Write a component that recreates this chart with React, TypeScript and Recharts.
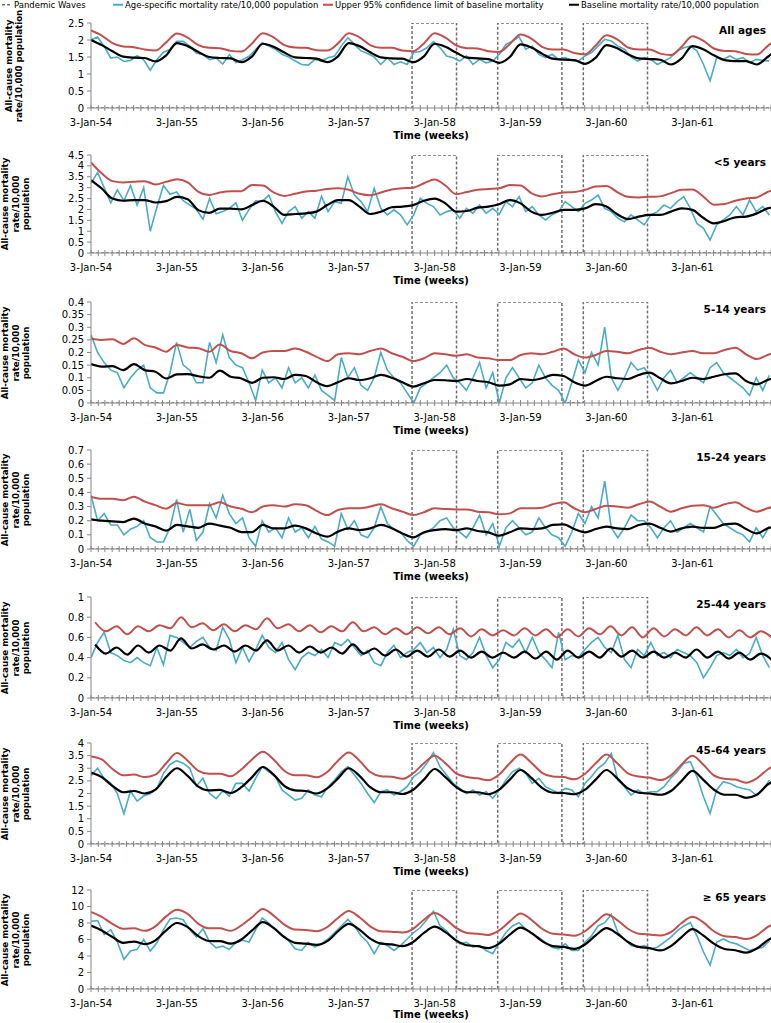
import React from 'react';
import { LineChart, Line, XAxis, YAxis } from 'recharts';

const FONT = '"DejaVu Sans", Verdana, sans-serif';

// time axis in weeks, week 0 = 3-Jan-54
const yearLabels = ['3-Jan-54', '3-Jan-55', '3-Jan-56', '3-Jan-57', '3-Jan-58', '3-Jan-59', '3-Jan-60', '3-Jan-61'];
const waveStarts = [195, 247, 299];
const waveEnds = [222, 286, 338];
const END_WEEK = 413;

// sampling positions (weeks) of the read-off values
const obsWeeks = Array.from({ length: 104 }, (_, k) => k * 4);
const smoothWeeks = Array.from({ length: 65 }, (_, j) => j * 6.5225);
const quarterWeeks = Array.from({ length: 64 }, (_, j) => 2.5 + j * 6.5225);

// ---- All ages
const allAgesObserved = [
  2.0, 2.09, 1.81, 1.47, 1.5, 1.37, 1.4, 1.54, 1.42, 1.11, 1.42, 1.64, 1.72,
  1.96, 1.96, 1.81, 1.62, 1.57, 1.42, 1.47, 1.29, 1.57, 1.34, 1.42, 1.52, 1.72,
  1.92, 1.82, 1.73, 1.58, 1.5, 1.38, 1.28, 1.26, 1.43, 1.38, 1.48, 1.53, 1.82,
  2.07, 1.87, 1.68, 1.6, 1.5, 1.28, 1.48, 1.28, 1.36, 1.28, 1.63, 1.66, 1.77,
  1.95, 1.77, 1.53, 1.48, 1.38, 1.53, 1.28, 1.43, 1.33, 1.38, 1.58, 1.87, 1.97,
  2.09, 1.73, 1.82, 1.58, 1.48, 1.58, 1.43, 1.48, 1.4, 1.38, 1.53, 1.63, 1.82,
  2.02, 1.97, 1.82, 1.73, 1.5, 1.38, 1.48, 1.43, 1.28, 1.38, 1.48, 1.68, 1.77,
  1.82, 1.68, 1.28, 0.8, 1.48, 1.43, 1.53, 1.43, 1.48, 1.33, 1.43, 1.4, 1.38,
];
const allAgesUpper = [
  2.28, 2.13, 1.91, 1.81, 1.79, 1.72, 1.69, 1.93,
  2.19, 2.07, 1.85, 1.77, 1.76, 1.68, 1.66, 1.9,
  2.2, 2.08, 1.85, 1.78, 1.77, 1.7, 1.69, 1.9,
  2.2, 2.08, 1.85, 1.77, 1.77, 1.69, 1.67, 1.9,
  2.2, 2.07, 1.84, 1.76, 1.75, 1.67, 1.65, 1.88,
  2.16, 2.04, 1.8, 1.72, 1.72, 1.62, 1.58, 1.84,
  2.14, 2.02, 1.78, 1.72, 1.72, 1.6, 1.56, 1.8,
  2.11, 1.98, 1.75, 1.68, 1.67, 1.59, 1.57, 1.82, 2.05,
];
const allAgesBaseline = [
  2.0, 1.85, 1.67, 1.51, 1.48, 1.47, 1.37, 1.55,
  1.91, 1.82, 1.65, 1.5, 1.47, 1.46, 1.35, 1.52,
  1.89, 1.8, 1.63, 1.49, 1.47, 1.45, 1.35, 1.52,
  1.91, 1.82, 1.64, 1.49, 1.46, 1.45, 1.35, 1.52,
  1.89, 1.8, 1.63, 1.48, 1.46, 1.44, 1.33, 1.5,
  1.87, 1.78, 1.6, 1.45, 1.42, 1.41, 1.3, 1.48,
  1.85, 1.76, 1.58, 1.46, 1.44, 1.42, 1.28, 1.46,
  1.82, 1.73, 1.55, 1.41, 1.38, 1.38, 1.28, 1.5, 1.75,
];

// ---- <5 years
const under5Observed = [
  3.2, 3.7, 3.0, 2.3, 2.9, 2.4, 3.1, 2.2, 3.0, 1.0, 2.1, 3.1, 2.7,
  2.8, 2.4, 2.2, 2.0, 1.55, 2.5, 1.8, 1.9, 2.05, 2.3, 1.5, 2.0, 2.4,
  2.36, 2.66, 1.9, 1.36, 1.9, 2.13, 1.6, 1.9, 1.6, 2.6, 1.9, 2.36, 2.28,
  3.5, 2.66, 2.36, 1.9, 2.97, 2.05, 1.75, 1.98, 1.75, 1.29, 1.75, 2.51, 2.28,
  2.13, 1.75, 1.9, 1.98, 1.6, 2.05, 1.82, 2.2, 1.82, 2.05, 1.78, 2.36, 2.13,
  2.59, 1.9, 2.13, 1.75, 1.52, 1.75, 1.9, 2.36, 2.13, 1.9, 2.28, 2.43, 2.66,
  2.05, 1.9, 1.6, 1.44, 1.75, 1.52, 1.29, 1.75, 1.9, 2.2, 2.05, 2.36, 2.59,
  2.05, 1.36, 1.13, 0.6, 1.29, 1.52, 1.75, 2.13, 1.75, 2.43, 1.9, 2.13, 1.75,
];
const under5Upper = [
  4.16, 3.66, 3.3, 3.24, 3.27, 3.3, 3.15, 3.27,
  3.39, 3.24, 2.81, 2.66, 2.78, 2.84, 2.84, 3.12,
  3.1, 2.78, 2.62, 2.72, 2.82, 2.86, 2.94, 2.97,
  2.9, 2.72, 2.65, 2.78, 2.92, 2.97, 3.0, 3.2,
  3.37, 3.1, 2.7, 2.8, 2.9, 2.94, 2.97, 3.12,
  3.1, 2.75, 2.6, 2.7, 2.78, 2.8, 2.9, 3.05,
  3.08, 2.8, 2.58, 2.55, 2.58, 2.6, 2.75, 2.9,
  2.92, 2.6, 2.22, 2.25, 2.4, 2.5, 2.55, 2.8, 2.95,
];
const under5Baseline = [
  3.35, 2.96, 2.5, 2.4, 2.43, 2.43, 2.32, 2.38,
  2.58, 2.47, 1.97, 1.84, 2.04, 2.04, 2.0, 2.2,
  2.4, 2.13, 1.75, 1.79, 1.82, 1.9, 2.2, 2.43,
  2.43, 2.13, 1.79, 1.9, 2.1, 2.13, 2.2, 2.4,
  2.5, 2.28, 1.9, 1.93, 2.08, 2.13, 2.24, 2.43,
  2.28, 1.9, 1.75, 1.85, 1.98, 1.98, 2.05, 2.24,
  2.13, 1.78, 1.56, 1.67, 1.75, 1.75, 1.9, 2.05,
  1.98, 1.62, 1.36, 1.47, 1.64, 1.67, 1.82, 2.05, 2.13,
];

// ---- 5-14 years
const age5to14Observed = [
  0.27, 0.2, 0.16, 0.13, 0.12, 0.06, 0.1, 0.13, 0.15, 0.06, 0.04, 0.04, 0.12,
  0.24, 0.15, 0.13, 0.08, 0.08, 0.24, 0.16, 0.27, 0.18, 0.15, 0.14, 0.08, 0.01,
  0.13, 0.08, 0.1, 0.06, 0.14, 0.08, 0.1, 0.06, 0.11, 0.05, 0.03, 0.01, 0.18,
  0.1, 0.14, 0.07, 0.05, 0.1, 0.2, 0.13, 0.1, 0.08, 0.04, 0.0, 0.06, 0.08,
  0.1, 0.12, 0.15, 0.1, 0.08, 0.05, 0.1, 0.16, 0.06, 0.12, 0.0, 0.1, 0.14,
  0.1, 0.06, 0.08, 0.15, 0.1, 0.07, 0.05, 0.0, 0.08, 0.17, 0.12, 0.2, 0.15,
  0.3, 0.1, 0.05, 0.1, 0.16, 0.13, 0.14, 0.1, 0.05, 0.1, 0.13, 0.08, 0.1,
  0.12, 0.1, 0.08, 0.14, 0.16, 0.12, 0.1, 0.08, 0.06, 0.03, 0.1, 0.05, 0.11,
];
const age5to14Upper = [
  0.256, 0.25, 0.252, 0.234, 0.256, 0.23, 0.22, 0.203,
  0.23, 0.22, 0.217, 0.203, 0.232, 0.206, 0.197, 0.177,
  0.2, 0.206, 0.206, 0.216, 0.203, 0.183, 0.166, 0.193,
  0.197, 0.193, 0.206, 0.216, 0.197, 0.183, 0.166, 0.177,
  0.197, 0.193, 0.187, 0.193, 0.18, 0.177, 0.17, 0.17,
  0.19, 0.197, 0.193, 0.203, 0.216, 0.193, 0.18, 0.19,
  0.206, 0.203, 0.197, 0.21, 0.219, 0.203, 0.193, 0.2,
  0.206, 0.197, 0.197, 0.21, 0.219, 0.193, 0.174, 0.19, 0.206,
];
const age5to14Baseline = [
  0.154, 0.144, 0.146, 0.13, 0.154, 0.13, 0.124, 0.097,
  0.113, 0.114, 0.106, 0.1, 0.128, 0.104, 0.097, 0.08,
  0.1, 0.102, 0.095, 0.111, 0.107, 0.082, 0.067, 0.082,
  0.098, 0.091, 0.098, 0.111, 0.1, 0.082, 0.065, 0.078,
  0.091, 0.09, 0.087, 0.095, 0.087, 0.082, 0.069, 0.074,
  0.095, 0.091, 0.098, 0.111, 0.107, 0.082, 0.069, 0.087,
  0.104, 0.098, 0.095, 0.111, 0.12, 0.098, 0.078, 0.087,
  0.1, 0.095, 0.104, 0.114, 0.117, 0.087, 0.074, 0.091, 0.104,
];

// ---- 15-24 years
const age15to24Observed = [
  0.38, 0.2, 0.25, 0.17, 0.17, 0.1, 0.14, 0.16, 0.2, 0.08, 0.05, 0.05, 0.15,
  0.35, 0.12, 0.28, 0.06, 0.12, 0.32, 0.22, 0.38, 0.25, 0.18, 0.22, 0.08, 0.02,
  0.2, 0.12, 0.15, 0.08, 0.22, 0.12, 0.15, 0.08, 0.16, 0.07, 0.05, 0.02, 0.25,
  0.14, 0.2, 0.1, 0.08, 0.15, 0.3, 0.18, 0.14, 0.12, 0.06, 0.02, 0.1, 0.12,
  0.15, 0.2, 0.22, 0.15, 0.12, 0.08, 0.15, 0.24, 0.1, 0.18, 0.02, 0.15, 0.2,
  0.15, 0.1, 0.12, 0.22, 0.15, 0.1, 0.08, 0.02, 0.12, 0.25, 0.18, 0.3, 0.22,
  0.48, 0.15, 0.08, 0.15, 0.24, 0.2, 0.2, 0.15, 0.08, 0.15, 0.2, 0.12, 0.15,
  0.18, 0.15, 0.12, 0.3, 0.24, 0.18, 0.15, 0.12, 0.1, 0.05, 0.15, 0.08, 0.16,
];
const age15to24Upper = [
  0.37, 0.355, 0.355, 0.345, 0.37, 0.335, 0.31, 0.285,
  0.325, 0.31, 0.31, 0.31, 0.33, 0.3, 0.285, 0.26,
  0.3, 0.31, 0.3, 0.316, 0.31, 0.27, 0.24, 0.276,
  0.288, 0.288, 0.3, 0.316, 0.288, 0.264, 0.24, 0.26,
  0.288, 0.283, 0.28, 0.28, 0.264, 0.26, 0.245, 0.252,
  0.288, 0.288, 0.292, 0.316, 0.33, 0.288, 0.26, 0.283,
  0.306, 0.3, 0.292, 0.316, 0.335, 0.3, 0.264, 0.288,
  0.306, 0.31, 0.292, 0.316, 0.33, 0.292, 0.264, 0.288, 0.306,
];
const age15to24Baseline = [
  0.21, 0.2, 0.195, 0.19, 0.215, 0.18, 0.16, 0.13,
  0.17, 0.16, 0.15, 0.18, 0.165, 0.15, 0.12, 0.12,
  0.17, 0.146, 0.146, 0.165, 0.146, 0.11, 0.087, 0.123,
  0.146, 0.134, 0.146, 0.17, 0.146, 0.11, 0.082, 0.118,
  0.134, 0.141, 0.134, 0.146, 0.127, 0.118, 0.094, 0.118,
  0.146, 0.141, 0.146, 0.17, 0.174, 0.141, 0.118, 0.141,
  0.158, 0.146, 0.141, 0.17, 0.18, 0.15, 0.123, 0.146,
  0.158, 0.15, 0.15, 0.174, 0.18, 0.141, 0.11, 0.146, 0.165,
];

// ---- 25-44 years (baseline cycles quarterly)
const age25to44Observed = [
  0.4, 0.55, 0.65, 0.45, 0.42, 0.37, 0.35, 0.4, 0.35, 0.32, 0.5, 0.33, 0.62,
  0.6, 0.55, 0.5, 0.56, 0.6, 0.5, 0.47, 0.7, 0.58, 0.35, 0.5, 0.36, 0.48,
  0.62, 0.5, 0.45, 0.55, 0.38, 0.28, 0.4, 0.45, 0.42, 0.48, 0.4, 0.55, 0.52,
  0.58, 0.5, 0.42, 0.47, 0.35, 0.32, 0.45, 0.52, 0.4, 0.45, 0.48, 0.55, 0.45,
  0.5, 0.4, 0.48, 0.68, 0.42, 0.38, 0.45, 0.6, 0.42, 0.3, 0.38, 0.55, 0.5,
  0.58, 0.45, 0.6, 0.45, 0.38, 0.3, 0.65, 0.38, 0.42, 0.4, 0.48, 0.55, 0.6,
  0.5, 0.45, 0.62, 0.38, 0.3, 0.48, 0.42, 0.55, 0.42, 0.45, 0.4, 0.48, 0.45,
  0.42, 0.35, 0.2, 0.3, 0.42, 0.45, 0.42, 0.48, 0.4, 0.44, 0.6, 0.42, 0.3,
];
const age25to44Upper = [
  0.75, 0.66, 0.71, 0.63, 0.71, 0.66, 0.72, 0.69,
  0.8, 0.7, 0.74, 0.67, 0.73, 0.66, 0.72, 0.68,
  0.79, 0.69, 0.73, 0.66, 0.72, 0.65, 0.71, 0.66,
  0.75, 0.66, 0.7, 0.63, 0.69, 0.63, 0.7, 0.64,
  0.7, 0.63, 0.69, 0.61, 0.68, 0.62, 0.67, 0.62,
  0.69, 0.62, 0.68, 0.6, 0.68, 0.61, 0.69, 0.63,
  0.71, 0.62, 0.7, 0.6, 0.69, 0.61, 0.68, 0.62,
  0.7, 0.62, 0.68, 0.6, 0.67, 0.6, 0.66, 0.6,
];
const age25to44Baseline = [
  0.53, 0.44, 0.5, 0.43, 0.52, 0.45, 0.52, 0.47,
  0.59, 0.49, 0.53, 0.48, 0.52, 0.46, 0.52, 0.47,
  0.57, 0.47, 0.52, 0.45, 0.51, 0.45, 0.5, 0.44,
  0.53, 0.44, 0.49, 0.42, 0.48, 0.41, 0.47, 0.41,
  0.48, 0.41, 0.47, 0.4, 0.46, 0.4, 0.45, 0.4,
  0.46, 0.39, 0.46, 0.38, 0.47, 0.4, 0.46, 0.4,
  0.49, 0.41, 0.47, 0.4, 0.46, 0.4, 0.45, 0.4,
  0.48, 0.4, 0.46, 0.39, 0.45, 0.38, 0.44, 0.38,
];

// ---- 45-64 years
const age45to64Observed = [
  2.7, 3.0, 2.6, 2.4, 2.0, 1.2, 2.1, 1.7, 1.9, 2.0, 2.2, 2.8, 3.15,
  3.3, 3.2, 3.0, 2.3, 2.6, 2.0, 1.8, 2.1, 1.9, 2.4, 2.4, 2.1, 2.6,
  3.06, 2.86, 2.67, 2.14, 1.94, 1.74, 1.81, 2.14, 1.94, 1.87, 2.27, 2.53, 2.86,
  3.06, 2.73, 2.4, 2.0, 1.64, 2.07, 2.14, 1.94, 2.07, 2.27, 2.67, 2.86, 3.2,
  3.62, 3.06, 2.73, 2.4, 2.2, 2.0, 2.14, 1.94, 2.07, 1.81, 2.14, 2.53, 2.86,
  3.0, 2.8, 2.4, 2.6, 2.27, 2.14, 2.0, 2.2, 2.14, 1.87, 2.4, 2.67, 3.0,
  3.2, 3.59, 2.53, 2.27, 1.94, 2.14, 2.0, 2.07, 2.07, 2.27, 2.6, 2.86, 3.2,
  3.26, 2.67, 1.87, 1.21, 2.14, 2.47, 2.4, 2.27, 2.2, 2.14, 1.94, 2.14, 2.53,
];
const age45to64Upper = [
  3.47, 3.35, 2.97, 2.72, 2.75, 2.65, 2.75, 3.2,
  3.6, 3.3, 2.9, 2.78, 2.78, 2.68, 2.95, 3.35,
  3.65, 3.35, 2.9, 2.72, 2.72, 2.64, 2.85, 3.3,
  3.62, 3.3, 2.85, 2.68, 2.66, 2.58, 2.8, 3.2,
  3.5, 3.2, 2.8, 2.65, 2.6, 2.52, 2.75, 3.2,
  3.54, 3.22, 2.82, 2.67, 2.65, 2.56, 2.78, 3.2,
  3.54, 3.2, 2.8, 2.67, 2.63, 2.53, 2.72, 3.15,
  3.5, 3.15, 2.72, 2.58, 2.55, 2.43, 2.6, 2.95, 3.2,
];
const age45to64Baseline = [
  2.83, 2.65, 2.3, 2.05, 2.1, 2.0, 2.15, 2.65,
  3.0, 2.7, 2.27, 2.12, 2.14, 2.02, 2.25, 2.65,
  3.05, 2.75, 2.3, 2.12, 2.1, 2.0, 2.2, 2.6,
  3.0, 2.7, 2.25, 2.05, 2.05, 1.98, 2.15, 2.55,
  2.97, 2.65, 2.25, 2.05, 2.05, 1.97, 2.15, 2.55,
  2.93, 2.62, 2.22, 2.03, 2.02, 1.97, 2.15, 2.55,
  2.93, 2.6, 2.2, 2.03, 2.0, 1.95, 2.1, 2.5,
  2.9, 2.55, 2.15, 1.95, 1.95, 1.83, 1.95, 2.35, 2.6,
];

// ---- >= 65 years
const age65plusObserved = [
  8.2, 8.3, 6.6, 7.2, 5.7, 3.6, 4.6, 4.8, 6.0, 4.6, 5.6, 7.2, 8.5,
  8.6, 8.4, 7.2, 6.3, 7.3, 5.7, 5.0, 5.2, 4.8, 5.6, 5.9, 5.7, 7.2,
  8.6, 8.0, 7.2, 6.45, 5.86, 4.87, 4.67, 5.66, 5.07, 5.47, 6.06, 6.85, 7.64,
  8.43, 7.64, 6.45, 5.66, 4.28, 5.66, 5.27, 4.67, 5.27, 6.06, 6.85, 7.45, 8.43,
  9.43, 7.64, 7.05, 6.06, 5.47, 5.66, 5.07, 5.27, 4.67, 4.28, 5.66, 6.85, 7.64,
  8.04, 7.25, 6.65, 6.26, 5.66, 5.07, 4.87, 5.47, 4.67, 4.67, 5.66, 6.45, 7.64,
  8.04, 9.03, 6.85, 6.06, 5.27, 5.07, 5.27, 4.87, 5.07, 5.66, 6.26, 7.05, 7.64,
  8.04, 6.45, 4.48, 2.89, 5.66, 6.06, 5.66, 5.47, 5.07, 4.67, 4.87, 5.07, 5.86,
];
const age65plusUpper = [
  9.35, 8.75, 7.9, 7.3, 7.35, 7.05, 7.6, 8.8,
  9.6, 9.1, 7.9, 7.35, 7.35, 7.05, 7.7, 8.7,
  9.7, 8.9, 7.8, 7.2, 7.15, 7.0, 7.5, 8.6,
  9.45, 8.7, 7.6, 7.0, 6.95, 6.85, 7.3, 8.4,
  9.2, 8.5, 7.4, 6.8, 6.7, 6.55, 7.1, 8.2,
  9.15, 8.4, 7.3, 6.7, 6.6, 6.45, 7.0, 8.1,
  9.05, 8.35, 7.3, 6.7, 6.6, 6.5, 6.9, 8.0,
  8.75, 8.1, 7.0, 6.4, 6.3, 6.05, 6.5, 7.5, 8.1,
];
const age65plusBaseline = [
  7.7, 7.1, 6.3, 5.6, 5.75, 5.45, 5.9, 7.1,
  8.0, 7.5, 6.4, 5.82, 5.8, 5.5, 6.0, 7.1,
  8.1, 7.4, 6.3, 5.6, 5.5, 5.35, 5.8, 7.0,
  7.9, 7.2, 6.1, 5.5, 5.4, 5.2, 5.7, 6.8,
  7.55, 6.9, 5.9, 5.3, 5.2, 4.95, 5.5, 6.6,
  7.45, 6.8, 5.8, 5.2, 5.1, 4.87, 5.4, 6.5,
  7.37, 6.7, 5.7, 5.1, 4.95, 4.67, 5.2, 6.3,
  7.25, 6.5, 5.5, 4.85, 4.7, 4.4, 4.9, 5.9, 6.5,
];

// y-axis tick labels
const ticksAllAges = [0, 0.5, 1, 1.5, 2, 2.5];
const ticksUnder5 = [0, 0.5, 1, 1.5, 2, 2.5, 3, 3.5, 4, 4.5];
const ticks5to14 = [0, 0.05, 0.1, 0.15, 0.2, 0.25, 0.3, 0.35, 0.4];
const ticks15to24 = [0, 0.1, 0.2, 0.3, 0.4, 0.5, 0.6, 0.7];
const ticks25to44 = [0, 0.2, 0.4, 0.6, 0.8, 1];
const ticks45to64 = [0, 0.5, 1, 1.5, 2, 2.5, 3, 3.5, 4];
const ticks65plus = [0, 2, 4, 6, 8, 10, 12];

const panelTitles = ['All ages', '<5 years', '5-14 years', '15-24 years', '25-44 years', '45-64 years', '\u2265 65 years'];

// month ticks on the time axis (3rd of each month)
const DAY = 86400000;
const origin = Date.UTC(1954, 0, 3);
const monthTicks: number[] = [];
for (let y = 0; y < 8; y++) {
  for (let m = 0; m < 12; m++) {
    const w = (Date.UTC(1954 + y, m, 3) - origin) / DAY / 7;
    if (w <= END_WEEK) monthTicks.push(w);
  }
}
const yearWeeks = monthTicks.filter((_, i) => i % 12 === 0);

const AXIS = '#868686';
const BLUE = '#4bacc6';
const RED = '#c0504d';
const WAVE = '#6f6f6f';

type PanelCfg = {
  title: string;
  top: number;
  bottom: number;
  yTicks: number[];
  observed: number[];
  upper: number[];
  baseline: number[];
  smoothX: number[];
  yLabel: string[];
};

const label3 = ['All-cause mortality', 'rate/10,000', 'population'];

const panels: PanelCfg[] = [
  { title: panelTitles[0], top: 23, bottom: 108, yTicks: ticksAllAges, observed: allAgesObserved, upper: allAgesUpper, baseline: allAgesBaseline, smoothX: smoothWeeks, yLabel: ['All-cause mortality', 'rate/10,000 population'] },
  { title: panelTitles[1], top: 155, bottom: 253, yTicks: ticksUnder5, observed: under5Observed, upper: under5Upper, baseline: under5Baseline, smoothX: smoothWeeks, yLabel: label3 },
  { title: panelTitles[2], top: 302, bottom: 403, yTicks: ticks5to14, observed: age5to14Observed, upper: age5to14Upper, baseline: age5to14Baseline, smoothX: smoothWeeks, yLabel: label3 },
  { title: panelTitles[3], top: 450, bottom: 549, yTicks: ticks15to24, observed: age15to24Observed, upper: age15to24Upper, baseline: age15to24Baseline, smoothX: smoothWeeks, yLabel: label3 },
  { title: panelTitles[4], top: 597, bottom: 698, yTicks: ticks25to44, observed: age25to44Observed, upper: age25to44Upper, baseline: age25to44Baseline, smoothX: quarterWeeks, yLabel: label3 },
  { title: panelTitles[5], top: 743, bottom: 844, yTicks: ticks45to64, observed: age45to64Observed, upper: age45to64Upper, baseline: age45to64Baseline, smoothX: smoothWeeks, yLabel: label3 },
  { title: panelTitles[6], top: 890, bottom: 989, yTicks: ticks65plus, observed: age65plusObserved, upper: age65plusUpper, baseline: age65plusBaseline, smoothX: smoothWeeks, yLabel: label3 },
];

const waveSeries = (top: number) => {
  const pts = [{ w: 0, v: 0 }];
  waveStarts.forEach((s, i) => {
    pts.push({ w: s, v: 0 }, { w: s, v: top }, { w: waveEnds[i], v: top }, { w: waveEnds[i], v: 0 });
  });
  pts.push({ w: END_WEEK, v: 0 });
  return pts;
};

const XTick = (props: any) => {
  const { x, y, payload } = props;
  const idx = yearWeeks.findIndex((w) => Math.abs(w - payload.value) < 0.001);
  return (
    <g>
      <line x1={x} x2={x} y1={y - 3} y2={y + 3} stroke={AXIS} strokeWidth={1} />
      {idx >= 0 && (
        <text x={x} y={y + 17.5} textAnchor="middle" fontSize={10} fontFamily={FONT} fill="#000">
          {yearLabels[idx]}
        </text>
      )}
    </g>
  );
};

const fmt = (v: number) => String(Number(v.toFixed(3)));

function Panel({ p }: { p: PanelCfg }) {
  const plotH = p.bottom - p.top;
  const yMax = p.yTicks[p.yTicks.length - 1];
  const obs = p.observed.map((v, i) => ({ w: obsWeeks[i], v }));
  const up = p.upper.map((v, i) => ({ w: p.smoothX[i], v }));
  const base = p.baseline.map((v, i) => ({ w: p.smoothX[i], v }));
  const mid = (p.top + p.bottom) / 2;
  const threeLines = p.yLabel.length === 3;
  const timeY = Math.min(p.bottom + 28, 1015);
  return (
    <>
      <div style={{ position: 'absolute', left: 0, top: p.top - 5 }}>
        <LineChart width={771} height={plotH + 45} margin={{ top: 5, right: 0, bottom: 0, left: 0 }}>
          <XAxis
            dataKey="w"
            type="number"
            domain={[0, END_WEEK]}
            allowDataOverflow
            ticks={monthTicks}
            interval={0}
            tick={<XTick />}
            tickLine={false}
            tickSize={0}
            tickMargin={0}
            stroke={AXIS}
            height={40}
          />
          <YAxis
            type="number"
            domain={[0, yMax]}
            allowDataOverflow
            ticks={p.yTicks}
            interval={0}
            tickFormatter={fmt}
            tick={{ fontSize: 10, fill: '#000', fontFamily: FONT }}
            tickSize={4}
            tickMargin={3}
            stroke={AXIS}
            width={91}
          />
          <Line data={waveSeries(yMax)} dataKey="v" type="linear" stroke={WAVE} strokeWidth={1.5} strokeDasharray="3 2" dot={false} activeDot={false} isAnimationActive={false} />
          <Line data={obs} dataKey="v" type="linear" stroke={BLUE} strokeWidth={1.6} dot={false} activeDot={false} isAnimationActive={false} />
          <Line data={up} dataKey="v" type="monotone" stroke={RED} strokeWidth={2} dot={false} activeDot={false} isAnimationActive={false} />
          <Line data={base} dataKey="v" type="monotone" stroke="#000" strokeWidth={2.2} dot={false} activeDot={false} isAnimationActive={false} />
        </LineChart>
      </div>
      <div style={{ position: 'absolute', left: 766, top: p.top + 7, transform: 'translate(-100%, -50%)', fontFamily: FONT, fontWeight: 'bold', fontSize: 10.5, whiteSpace: 'nowrap', lineHeight: 1 }}>
        {p.title}
      </div>
      <div style={{ position: 'absolute', left: 431, top: timeY, transform: 'translate(-50%, -50%)', fontFamily: FONT, fontWeight: 'bold', fontSize: 10, whiteSpace: 'nowrap', lineHeight: 1 }}>
        Time (weeks)
      </div>
      <div style={{ position: 'absolute', left: threeLines ? 15.5 : 14, top: mid, transform: 'translate(-50%, -50%) rotate(-90deg)', fontFamily: FONT, fontWeight: 'bold', fontSize: 8.7, whiteSpace: 'nowrap', textAlign: 'center', lineHeight: threeLines ? '10.5px' : '10px' }}>
        {p.yLabel.map((l) => (
          <div key={l}>{l}</div>
        ))}
      </div>
    </>
  );
}

const legendItems = [
  { label: 'Pandemic Waves', x: 2, color: WAVE, dashed: true },
  { label: 'Age-specific mortality rate/10,000 population', x: 113, color: BLUE, dashed: false },
  { label: 'Upper 95% confidence limit of baseline mortality', x: 323, color: RED, dashed: false },
  { label: 'Baseline mortality rate/10,000 population', x: 569, color: '#000', dashed: false },
];

export default function App() {
  return (
    <div style={{ position: 'absolute', left: 0, top: 0, width: 771, height: 1023, background: '#fff', overflow: 'hidden' }}>
      {legendItems.map((it) => (
        <div key={it.label} style={{ position: 'absolute', left: it.x, top: 5, transform: 'translateY(-50%)', display: 'flex', alignItems: 'center', fontFamily: FONT, fontSize: 8.5, whiteSpace: 'nowrap', lineHeight: 1 }}>
          <svg width={11} height={4} style={{ marginRight: 1 }}>
            <line x1={0} x2={10} y1={2} y2={2} stroke={it.color} strokeWidth={it.dashed ? 1.3 : 2} strokeDasharray={it.dashed ? '3 2' : undefined} />
          </svg>
          <span>{it.label}</span>
        </div>
      ))}
      {panels.map((p) => (
        <Panel key={p.title} p={p} />
      ))}
    </div>
  );
}
